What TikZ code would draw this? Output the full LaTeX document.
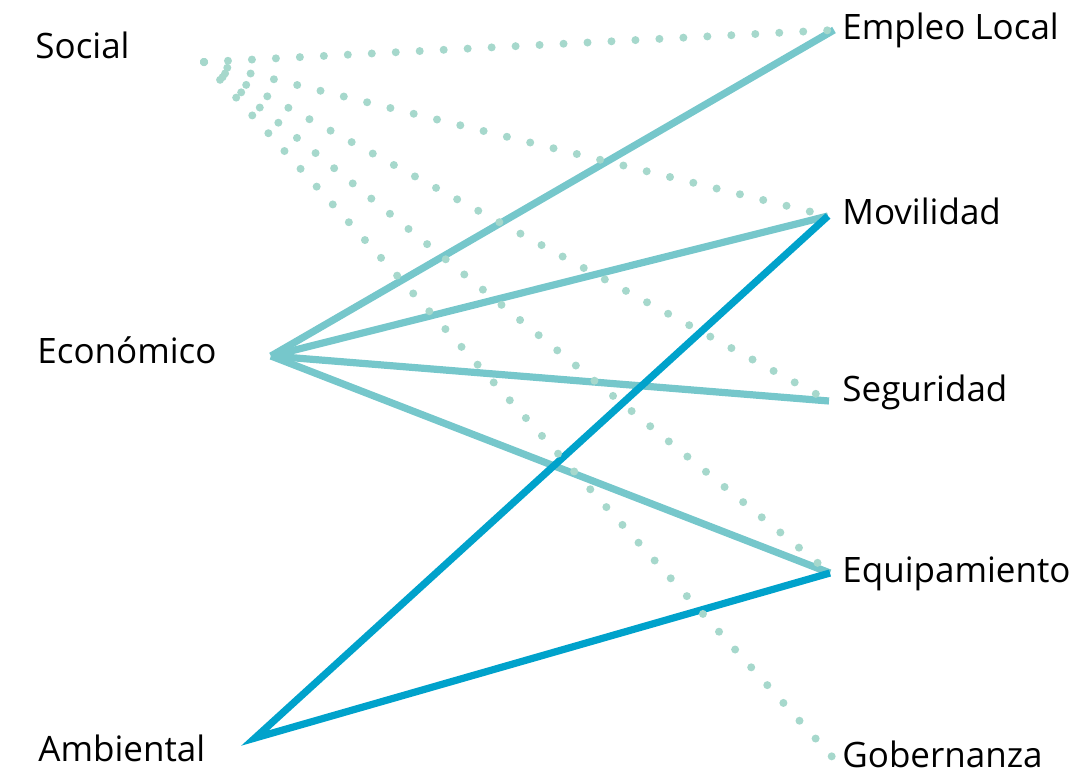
\documentclass[tikz,border=0pt]{standalone}
\usepackage{fontspec}
\setmainfont{Open Sans}
\usepackage{xcolor}
\definecolor{socialdot}{HTML}{A6D8CC}
\definecolor{ecoline}{HTML}{76C7CB}
\definecolor{ambline}{HTML}{00A2CB}
\tikzset{
  label/.style={anchor=west, inner sep=0pt, font=\fontsize{17.5}{20}\selectfont},
  dotline/.style={socialdot, line width=4pt, line cap=round, dash pattern=on 0pt off 12pt},
  ecoedge/.style={ecoline, line width=3.6pt},
  ambedge/.style={ambline, line width=3.6pt},
}
\begin{document}
\begin{tikzpicture}[x=0.5pt,y=-0.5pt]
  \useasboundingbox (0,0) rectangle (1084,772);
  % labels
  \node[label] (socialtxt) at (35,45) {Social};
  \node[label] (economicotxt) at (37,350) {Económico};
  \node[label] (ambientaltxt) at (38,748) {Ambiental};
  \node[label] (empleotxt) at (842,30) {Empleo Local};
  \node[label] (movilidadtxt) at (842,211) {Movilidad};
  \node[label] (seguridadtxt) at (842,392) {Seguridad};
  \node[label] (equipamientotxt) at (842,574) {Equipamiento};
  \node[label] (gobernanzatxt) at (842,754) {Gobernanza};
  % anchors
  \coordinate (social) at (204,62);
  \coordinate (economico) at (271,356);
  \coordinate (ambiental) at (255,738);
  \coordinate (empleo) at (834,30);
  \coordinate (movilidad) at (828,216);
  \coordinate (seguridad) at (829,401);
  \coordinate (equipamiento) at (830,573);
  \coordinate (gobernanza) at (835,760);
  % solid links
  \draw[ecoedge] (economico)--(empleo);
  \draw[ecoedge] (economico)--(movilidad);
  \draw[ecoedge] (economico)--(seguridad);
  \draw[ecoedge] (economico)--(equipamiento);
  \draw[ambedge] (movilidad)--(ambiental)--(equipamiento);
  % dotted links
  \foreach \t in {empleo,movilidad,seguridad,equipamiento,gobernanza}
    \draw[dotline] (social)--(\t);
\end{tikzpicture}
\end{document}
